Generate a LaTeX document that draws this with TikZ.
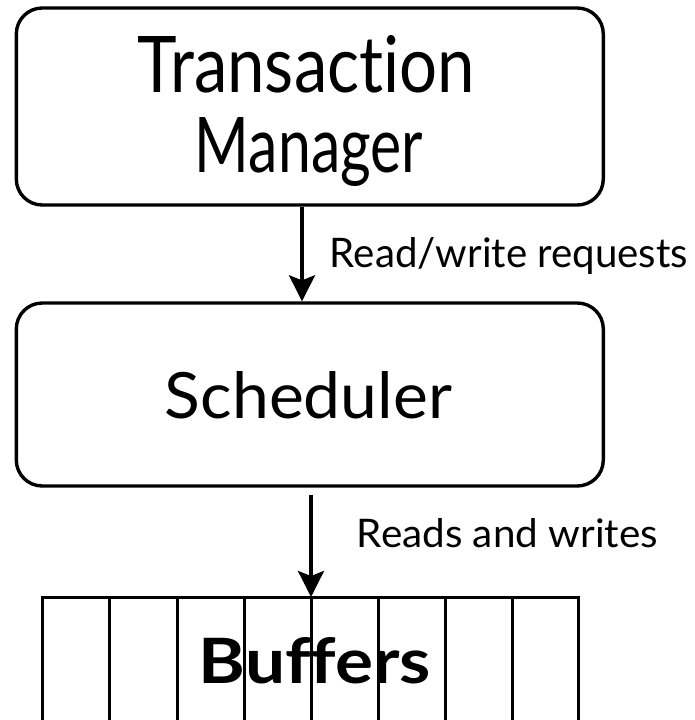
\documentclass[tikz,border=0pt]{standalone}
\usepackage{fontspec}
\setmainfont{Lato}[Ligatures={NoCommon}]
\usetikzlibrary{arrows.meta}
\tikzset{
  box/.style={draw, line width=3.4pt, rounded corners=26pt, inner sep=0pt},
  txt/.style={anchor=base, inner sep=0pt},
  arr/.style={line width=3.4pt, -{Stealth[length=26pt,width=26pt,inset=5pt]}},
  bufline/.style={line width=3pt}
}
\newcommand\fitbox[3]{\resizebox{#1pt}{#2pt}{#3}}
\begin{document}
\begin{tikzpicture}[x=1pt,y=-1pt]
\useasboundingbox (0,0) rectangle (694,720);
\clip (0,0) rectangle (694,720);
% boxes
\node[box, minimum width=587pt, minimum height=197pt] (tm) at (309.8,106.5) {};
\node[box, minimum width=587pt, minimum height=183pt] (sch) at (309.8,394.5) {};
% texts
\node[txt] (t1) at (306.5,92) {\fitbox{337}{57}{Transact\kern0pt ion}};
\node[txt] (t2) at (309,172) {\fitbox{228}{55}{Manager}};
\node[txt] (t3) at (308.5,418) {\fitbox{287}{47}{Scheduler}};
\node[txt] (l1) at (509,267) {\fitbox{358}{30}{Read/write requests}};
\node[txt] (l2) at (507.5,547) {\fitbox{301}{29}{Reads and writes}};
\node[txt] (bt) at (315,683) {\fitbox{232}{46}{\bfseries Buffers}};
% buffers
\coordinate (buftop) at (311,597);
\draw[bufline] (42,730) -- (42,597) -- (578,597) -- (578,730);
\foreach \x in {109,177,244,311,378,445,512} \draw[bufline] (\x,597) -- (\x,730);
% arrows
\draw[arr] (tm.south -| 302,0) -- (sch.north -| 302,0);
\draw[arr, shorten <=7pt] (sch.south -| buftop) -- (buftop);
\end{tikzpicture}
\end{document}
